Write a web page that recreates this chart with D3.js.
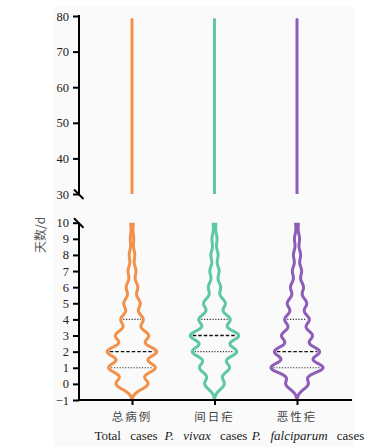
<!DOCTYPE html>
<html><head><meta charset="utf-8">
<script src="https://cdn.jsdelivr.net/npm/d3@7"></script>
<style>
html,body{margin:0;padding:0;background:#fff;}
svg{display:block;}
.serif{font-family:'Liberation Serif','DejaVu Serif',serif;}
</style></head>
<body>
<svg id="chart" width="390" height="447"></svg>
<script>
// ---------- data ----------
const categories = ["总病例", "间日疟", "恶性疟"];
const categoriesEn = [
  [{t:"Total", i:false},{t:" cases", i:false}],
  [{t:"P. vivax", i:true},{t:" cases", i:false}],
  [{t:"P. falciparum", i:true},{t:" cases", i:false}]
];
const days = [0,1,2,3,4,5,6,7,8,9,10];
// share of cases (%) by number of days
const totalPct = [13.9, 20.2, 21.4, 14.3, 9.7, 7.1, 5.0, 3.4, 2.4, 1.5, 1.1];
const vivaxPct = [8.5, 12.9, 19.2, 21.0, 13.5, 9.4, 5.3, 4.0, 3.1, 2.2, 1.1];
const falciPct = [9.7, 22.6, 19.5, 13.3, 10.6, 8.4, 5.6, 4.0, 3.1, 2.2, 1.1];
const maxDays = [79, 79, 79];
const medians = [2, 3, 2];
const q1s = [1, 2, 1];
const q3s = [4, 4, 4];
const colors = ["#F2914A", "#5EC9A1", "#8E5CB9"];
const lowTicks = [-1,0,1,2,3,4,5,6,7,8,9,10];
const highTicks = [30,40,50,60,70,80];
const series = [totalPct, vivaxPct, falciPct];

// ---------- layout ----------
const svg = d3.select("#chart");
svg.append("rect").attr("x",53).attr("y",7).attr("width",302).attr("height",440).attr("fill","#fafafa");

const axisX = 79;
const yLow = d3.scaleLinear().domain([-1,10]).range([400, 222.7]);
const yHigh = d3.scaleLinear().domain([30,80]).range([194, 16]);
const x = d3.scalePoint().domain(categories).range([132, 297]);

const h = 0.34;
const kern = u => Math.exp(-0.5*u*u);
function dens(pcts, v){
  let s = 0;
  pcts.forEach((p,i)=>{ s += p*kern((v-days[i])/h); });
  return s;
}
const grids = series.map((pcts, gi) => {
  const pts = [];
  for (let v = -0.9; v <= maxDays[gi] + 1e-9; v += 0.02) pts.push({v, d: dens(pcts, v)});
  pts.push({v: maxDays[gi], d: dens(pcts, maxDays[gi])});
  return pts;
});
const maxD = d3.max(grids, g => d3.max(g, p => p.d));
const w = d3.scaleLinear().domain([0, maxD]).range([0, 26]);

const defs = svg.append("defs");
defs.append("clipPath").attr("id","clipLow").append("rect")
  .attr("x",60).attr("y",yLow(10)).attr("width",300).attr("height",yLow(-1)-yLow(10));
defs.append("clipPath").attr("id","clipHigh").append("rect")
  .attr("x",60).attr("y",0).attr("width",300).attr("height",yHigh(30));

function violin(g, gi, y){
  const cx = x(categories[gi]);
  const area = d3.area()
    .y(p => y(p.v))
    .x0(p => cx - w(p.d))
    .x1(p => cx + w(p.d))
    .curve(d3.curveBasis);
  g.append("path").datum(grids[gi]).attr("d", area)
    .attr("fill","none").attr("stroke",colors[gi]).attr("stroke-width",3)
    .attr("stroke-linejoin","round");
}
const gLow = svg.append("g").attr("clip-path","url(#clipLow)");
const gHigh = svg.append("g").attr("clip-path","url(#clipHigh)");
series.forEach((s,gi)=>{ violin(gLow, gi, yLow); violin(gHigh, gi, yHigh); });

// quartile lines
series.forEach((pcts, gi) => {
  const cx = x(categories[gi]);
  [[q1s[gi],"q"],[medians[gi],"m"],[q3s[gi],"q"]].forEach(([v,t]) => {
    const hw = w(dens(pcts, v)) - 2.5;
    svg.append("line").attr("x1", cx-hw).attr("x2", cx+hw)
      .attr("y1", yLow(v)).attr("y2", yLow(v))
      .attr("stroke", t==="m" ? "#111" : "#333")
      .attr("stroke-width", t==="m" ? 1.4 : 1.1)
      .attr("stroke-dasharray", t==="m" ? "3.5,2" : "1.2,1.6");
  });
});

// axes
const axL = d3.axisLeft(yLow).tickValues(lowTicks).tickSize(6).tickPadding(4)
  .tickFormat(d => d < 0 ? "\u2212" + Math.abs(d) : d);
const axH = d3.axisLeft(yHigh).tickValues(highTicks).tickSize(6).tickPadding(4);
[axL, axH].forEach(ax => {
  const g = svg.append("g").attr("transform",`translate(${axisX},0)`).call(ax)
    .attr("font-family", null).attr("class","serif");
  g.select(".domain").remove();
  g.selectAll(".tick line").attr("stroke","#000").attr("stroke-width",2);
  g.selectAll(".tick text").attr("class","serif").style("font-size","12.5px").attr("fill","#222");
});
// axis lines
svg.append("line").attr("x1",axisX).attr("x2",axisX).attr("y1",yHigh(80)-1).attr("y2",yHigh(30))
  .attr("stroke","#000").attr("stroke-width",2);
svg.append("line").attr("x1",axisX).attr("x2",axisX).attr("y1",yLow(10)).attr("y2",yLow(-1)+1)
  .attr("stroke","#000").attr("stroke-width",2);
// break marks
[yHigh(30), yLow(10)].forEach(yy => {
  svg.append("line").attr("x1",axisX-5).attr("y1",yy-4.5).attr("x2",axisX+4.5).attr("y2",yy+5)
    .attr("stroke","#000").attr("stroke-width",2);
});
// x axis
const axB = d3.axisBottom(x).tickSize(5).tickFormat("");
const gb = svg.append("g").attr("transform",`translate(0,${yLow(-1)})`).call(axB);
gb.select(".domain").remove();
gb.selectAll(".tick line").attr("stroke","#000").attr("stroke-width",2);
svg.append("line").attr("x1",axisX-1).attr("x2",352).attr("y1",yLow(-1)).attr("y2",yLow(-1))
  .attr("stroke","#000").attr("stroke-width",2);

// category labels (Chinese)
categories.forEach(c => {
  svg.append("text").attr("x", x(c)).attr("y", 421).attr("text-anchor","middle")
    .style("font-family","'Noto Sans CJK SC',sans-serif").style("font-size","11.5px")
    .attr("letter-spacing","2px").attr("fill","#444").text(c);
});
// English labels
const enX = [126, 206, 308];
categoriesEn.forEach((parts, i) => {
  const t = svg.append("text").attr("x", enX[i]).attr("y", 440).attr("text-anchor","middle")
    .attr("class","serif").style("font-size","13px").attr("fill","#222")
    .style("word-spacing","6px");
  parts.forEach(p => t.append("tspan").style("font-style", p.i ? "italic" : "normal").text(p.t));
});
// y title
svg.append("text").attr("transform","translate(45,235) rotate(-90)").attr("text-anchor","middle")
  .style("font-family","'Noto Sans CJK SC',sans-serif").style("font-size","12px").attr("fill","#555")
  .text("天数/d");
</script>
</body></html>
